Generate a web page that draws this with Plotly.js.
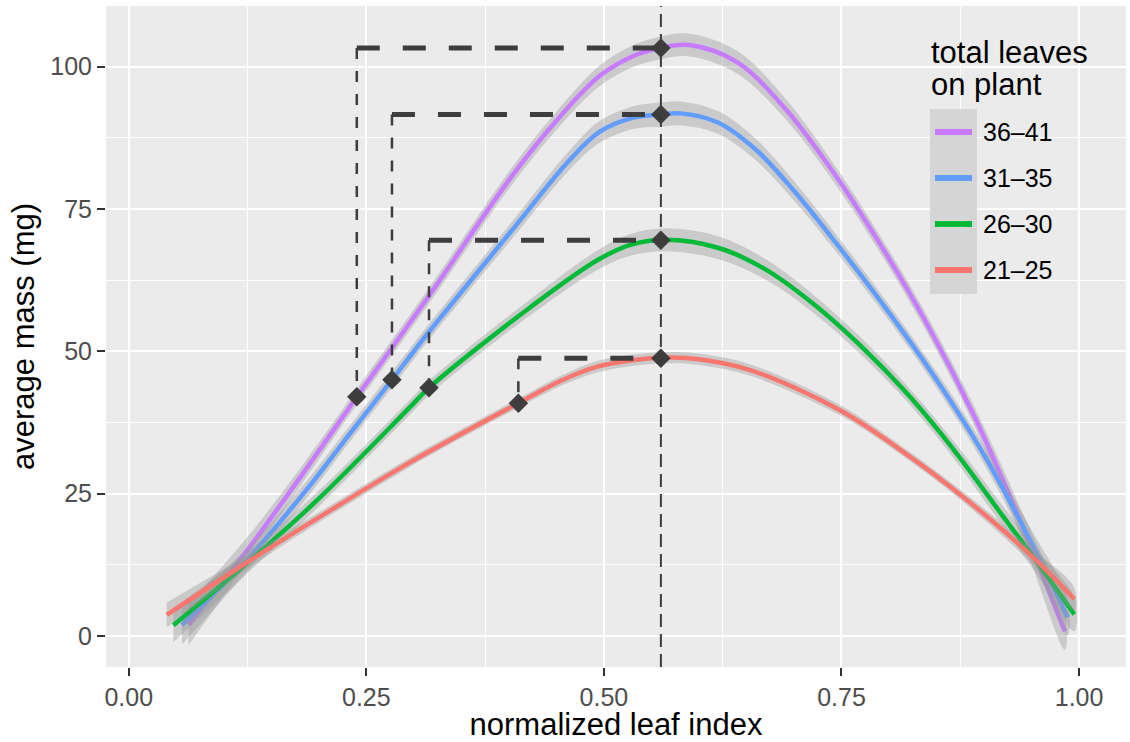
<!DOCTYPE html>
<html>
<head>
<meta charset="utf-8">
<script src="https://cdn.plot.ly/plotly-3.0.1.min.js"></script>
<style>
  html, body { margin: 0; padding: 0; background: #ffffff; }
  #chart { width: 1130px; height: 742px; }
</style>
</head>
<body>
<div id="chart"></div>
<script>
// Leaf-size classes (total leaves on plant), drawn in this order
const groups = ['36\u201341', '31\u201335', '26\u201330', '21\u201325'];
const colors = ['#C77CFF', '#619CFF', '#00BA38', '#F8766D'];

// Smoothed average leaf mass (mg) against normalized leaf index, with band half-widths
const index_36_41 = [0.063, 0.128, 0.181, 0.219, 0.240, 0.317, 0.402, 0.450, 0.495, 0.530, 0.560, 0.590, 0.640, 0.690, 0.740, 0.790, 0.840, 0.890, 0.940, 0.985];
const mass_36_41  = [2.0, 15.8, 28.0, 37.0, 42.0, 60.0, 80.5, 90.5, 98.3, 101.8, 103.3, 103.8, 100.8, 92.8, 81.8, 69.0, 54.8, 38.5, 19.5, 0.8];
const band_36_41  = [3.6, 2.2, 1.6, 1.4, 1.4, 1.4, 1.5, 1.6, 1.8, 1.9, 2.0, 2.0, 2.0, 1.8, 1.6, 1.5, 1.5, 1.7, 2.3, 3.2];

const index_31_35 = [0.056, 0.128, 0.191, 0.233, 0.277, 0.314, 0.402, 0.464, 0.495, 0.530, 0.560, 0.580, 0.620, 0.660, 0.700, 0.750, 0.800, 0.850, 0.900, 0.950, 0.988];
const mass_31_35  = [1.9, 14.0, 26.5, 35.6, 45.0, 53.0, 71.0, 83.6, 88.5, 91.0, 91.6, 91.8, 90.2, 85.4, 78.2, 67.8, 56.8, 45.0, 31.8, 16.3, 3.3];
const band_31_35  = [3.4, 2.0, 1.5, 1.4, 1.4, 1.4, 1.5, 1.7, 1.9, 2.0, 2.1, 2.1, 2.0, 1.9, 1.7, 1.5, 1.4, 1.4, 1.6, 2.3, 3.2];

const index_26_30 = [0.047, 0.128, 0.198, 0.296, 0.316, 0.423, 0.493, 0.528, 0.565, 0.620, 0.670, 0.720, 0.770, 0.820, 0.870, 0.920, 0.960, 0.995];
const mass_26_30  = [1.9, 13.3, 23.8, 40.2, 43.6, 57.8, 66.0, 68.7, 69.6, 68.2, 64.4, 58.4, 51.0, 42.4, 32.3, 21.0, 12.0, 3.8];
const band_26_30  = [3.0, 1.8, 1.4, 1.3, 1.3, 1.4, 1.7, 1.9, 2.0, 2.0, 1.8, 1.6, 1.5, 1.4, 1.5, 1.8, 2.3, 3.0];

const index_21_25 = [0.040, 0.128, 0.198, 0.296, 0.410, 0.457, 0.493, 0.528, 0.570, 0.600, 0.654, 0.748, 0.812, 0.882, 0.951, 0.995];
const mass_21_25  = [3.7, 13.3, 20.6, 30.5, 40.9, 45.0, 47.3, 48.4, 48.9, 48.6, 46.7, 39.7, 32.7, 23.9, 13.9, 6.5];
const band_21_25  = [2.2, 1.2, 0.9, 0.8, 0.8, 0.9, 1.0, 1.0, 1.0, 1.0, 1.0, 0.9, 0.8, 0.9, 1.3, 2.0];

const curveIndex = [index_36_41, index_31_35, index_26_30, index_21_25];
const curveMass  = [mass_36_41, mass_31_35, mass_26_30, mass_21_25];
const curveBand  = [band_36_41, band_31_35, band_26_30, band_21_25];

// Reference points: curve value at the common index and the earlier matching point
const peakIndex = 0.56;
const peakMass  = [103.3, 91.6, 69.5, 48.8];
const leftIndex = [0.240, 0.277, 0.316, 0.410];
const leftMass  = [42.0, 45.0, 43.6, 40.9];

// Axis ticks
const xTickVals = [0, 0.25, 0.5, 0.75, 1];
const xTickText = ['0.00', '0.25', '0.50', '0.75', '1.00'];
const xMinor    = [0.125, 0.375, 0.625, 0.875];
const yTickVals = [0, 25, 50, 75, 100];
const yTickText = ['0', '25', '50', '75', '100'];
const yMinor    = [12.5, 37.5, 62.5, 87.5];

const FONT = 'Liberation Sans, Arial, Helvetica, sans-serif';
const MARK = '#3D3D3D';

const traces = [];

// Confidence band then fitted line, one class at a time
groups.forEach((g, i) => {
  const xs = curveIndex[i], ys = curveMass[i], bs = curveBand[i];
  const upper = ys.map((v, k) => v + bs[k]);
  const lower = ys.map((v, k) => v - bs[k]);
  traces.push({
    type: 'scatter', mode: 'lines',
    x: xs.concat(xs.slice().reverse()),
    y: upper.concat(lower.slice().reverse()),
    fill: 'toself', fillcolor: 'rgba(153,153,153,0.4)',
    line: { width: 0, shape: 'spline', smoothing: 1 },
    hoverinfo: 'skip', showlegend: false
  });
  traces.push({
    type: 'scatter', mode: 'lines', name: g,
    x: xs, y: ys,
    line: { color: colors[i], width: 4.5, shape: 'spline', smoothing: 1 },
    showlegend: false
  });
});

// Elbow guides: vertical from the peak level down to the earlier point, horizontal to the common index
groups.forEach((g, i) => {
  traces.push({
    type: 'scatter', mode: 'lines',
    x: [leftIndex[i], leftIndex[i]], y: [peakMass[i], leftMass[i]],
    line: { color: MARK, width: 2.5, dash: '11px,12px' },
    hoverinfo: 'skip', showlegend: false
  });
  traces.push({
    type: 'scatter', mode: 'lines',
    x: [leftIndex[i], peakIndex], y: [peakMass[i], peakMass[i]],
    line: { color: MARK, width: 5, dash: '23px,23px' },
    hoverinfo: 'skip', showlegend: false
  });
});

// Diamonds at both reference points
traces.push({
  type: 'scatter', mode: 'markers',
  x: leftIndex.concat(peakMass.map(() => peakIndex)),
  y: leftMass.concat(peakMass),
  marker: { symbol: 'diamond', size: 15, color: MARK },
  showlegend: false
});

// Hand-built legend sitting inside the panel
const px = v => (v - 106) / 1020;
const py = v => (667 - v) / 661;
const keyY = [132, 178, 224, 270];
const shapes = [
  { type: 'line', xref: 'x', yref: 'paper', x0: peakIndex, x1: peakIndex, y0: 0, y1: 1,
    line: { color: MARK, width: 2, dash: '13px,7px' }, layer: 'above' },
  { type: 'rect', xref: 'paper', yref: 'paper', x0: px(930), x1: px(977), y0: py(294), y1: py(109),
    fillcolor: '#D5D5D5', line: { width: 0 }, layer: 'above' }
];
const annotations = [
  { xref: 'paper', yref: 'paper', x: px(929), y: py(52), xanchor: 'left', yanchor: 'middle',
    text: 'total leaves', showarrow: false, font: { family: FONT, size: 31, color: '#000000' } },
  { xref: 'paper', yref: 'paper', x: px(929), y: py(85), xanchor: 'left', yanchor: 'middle',
    text: 'on plant', showarrow: false, font: { family: FONT, size: 31, color: '#000000' } }
];
groups.forEach((g, i) => {
  shapes.push({ type: 'line', xref: 'paper', yref: 'paper', x0: px(935), x1: px(972),
    y0: py(keyY[i]), y1: py(keyY[i]), line: { color: colors[i], width: 6 }, layer: 'above' });
  annotations.push({ xref: 'paper', yref: 'paper', x: px(981), y: py(keyY[i]),
    xanchor: 'left', yanchor: 'middle', text: g, showarrow: false,
    font: { family: FONT, size: 25, color: '#000000' } });
});

const layout = {
  width: 1130, height: 742,
  margin: { l: 106, r: 4, t: 6, b: 75, pad: 0 },
  paper_bgcolor: '#FFFFFF', plot_bgcolor: '#EBEBEB',
  showlegend: false,
  font: { family: FONT },
  xaxis: {
    range: [-0.0239, 1.0494], autorange: false,
    tickvals: xTickVals, ticktext: xTickText,
    ticks: 'outside', ticklen: 8, tickwidth: 2, tickcolor: '#333333',
    tickfont: { family: FONT, size: 25, color: '#4D4D4D' },
    showgrid: true, gridcolor: '#FFFFFF', gridwidth: 2,
    minor: { tickvals: xMinor, showgrid: true, gridcolor: '#FFFFFF', gridwidth: 1, ticks: '' },
    zeroline: false, showline: false,
    title: { text: 'normalized leaf index', font: { family: FONT, size: 31, color: '#000000' }, standoff: 2 }
  },
  yaxis: {
    range: [-5.45, 110.66], autorange: false,
    tickvals: yTickVals, ticktext: yTickText,
    ticks: 'outside', ticklen: 8, tickwidth: 2, tickcolor: '#333333',
    tickfont: { family: FONT, size: 25, color: '#4D4D4D' },
    showgrid: true, gridcolor: '#FFFFFF', gridwidth: 2,
    minor: { tickvals: yMinor, showgrid: true, gridcolor: '#FFFFFF', gridwidth: 1, ticks: '' },
    zeroline: false, showline: false,
    title: { text: 'average mass (mg)', font: { family: FONT, size: 31, color: '#000000' }, standoff: 6 }
  },
  shapes: shapes,
  annotations: annotations
};

Plotly.newPlot('chart', traces, layout, { displayModeBar: false, staticPlot: true });
</script>
</body>
</html>
